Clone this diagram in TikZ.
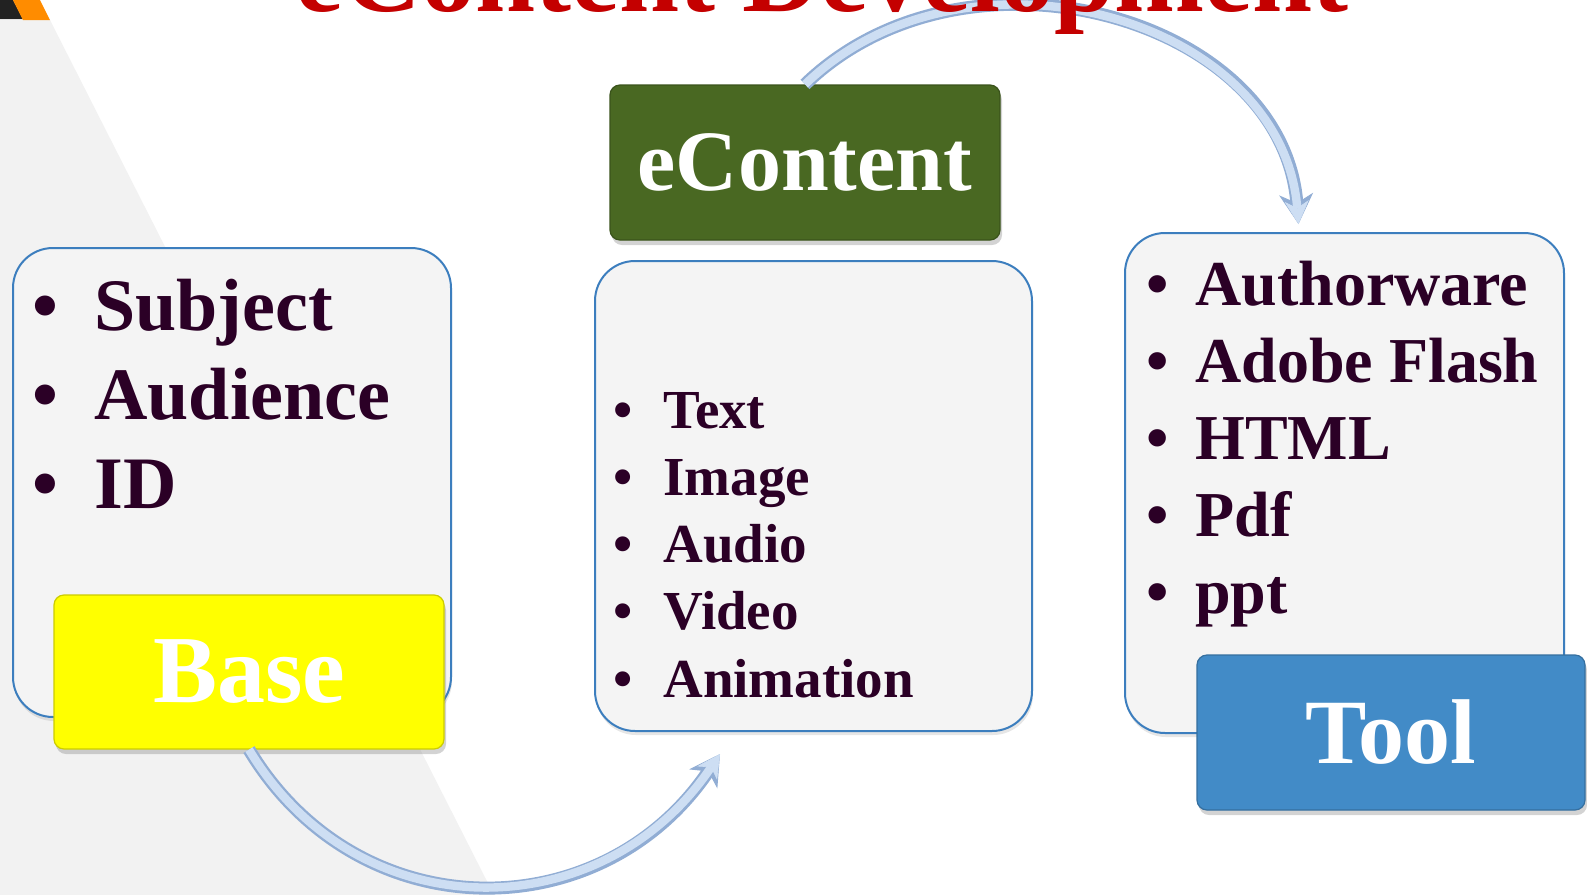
\documentclass[tikz,border=0pt]{standalone}
\usepackage{fontspec}
\setmainfont{Liberation Serif}
\usetikzlibrary{arrows.meta, shadows}
\definecolor{ink}{RGB}{43, 0, 38}
\definecolor{frame}{RGB}{60, 126, 190}
\definecolor{panel}{RGB}{244, 244, 244}
\definecolor{bggray}{RGB}{242, 242, 242}
\definecolor{cornerorange}{RGB}{255, 140, 0}
\definecolor{cornerblack}{RGB}{34, 34, 34}
\definecolor{basefill}{RGB}{255, 255, 0}
\definecolor{contentfill}{RGB}{73, 104, 34}
\definecolor{toolfill}{RGB}{66, 139, 199}
\definecolor{tubeedge}{RGB}{145, 173, 212}
\definecolor{tubefill}{RGB}{205, 222, 243}
\definecolor{titlered}{RGB}{196, 0, 0}
\newcommand*{\px}{0.5pt}
\newcommand*{\bul}[1]{\llap{\textbullet\hspace{#1}}}

\begin{document}
\begin{tikzpicture}[
   x=\px, y=-\px,
   listbox/.style={rectangle, draw=frame, fill=panel, line width=1pt, rounded corners=20pt,
                   drop shadow={opacity=0.2, shadow xshift=0.5pt, shadow yshift=-2pt}},
   tagbox/.style={rectangle, line width=0.6pt, rounded corners=5pt, text=white, inner sep=0pt,
                  drop shadow={opacity=0.35, shadow xshift=1pt, shadow yshift=-2.5pt}},
   leftitem/.style={anchor=base west, inner sep=0pt, text=ink,
                    font=\bfseries\fontsize{37}{44}\selectfont},
   miditem/.style={anchor=base west, inner sep=0pt, text=ink,
                   font=\bfseries\fontsize{27.5}{33}\selectfont},
   rightitem/.style={anchor=base west, inner sep=0pt, text=ink,
                     font=\bfseries\fontsize{32}{38}\selectfont},
   tubeout/.style={draw=tubeedge, line width=6.5pt,
                   -{Stealth[length=15pt, width=17pt, inset=4.5pt, line width=0.5pt]}},
   tubein/.style={draw=tubefill, line width=4.2pt,
                  -{Stealth[length=11.5pt, width=12pt, inset=3.5pt, line width=0.3pt]}},
   titletext/.style={anchor=base, inner sep=0pt, text=titlered,
                     font=\bfseries\fontsize{54}{60}\selectfont}
  ]

  \useasboundingbox (0, 0) rectangle (1587, 895);

  % backdrop
  \fill[bggray] (0, 20) -- (50, 20) -- (494, 895) -- (0, 895) -- cycle;
  \fill[cornerblack] (0, 0) -- (13, 0) -- (23, 19) -- (0, 19) -- cycle;
  \fill[cornerorange] (13, 0) -- (40, 0) -- (50, 20) -- (23, 20) -- cycle;

  % list panels
  \node (baselist) at (232, 482.5) [listbox, minimum width=219pt, minimum height=234.5pt] {};
  \node (contentlist) at (813.5, 496) [listbox, minimum width=218.5pt, minimum height=235pt] {};
  \node (toollist) at (1344.5, 483) [listbox, minimum width=219.5pt, minimum height=250pt] {};

  % labels
  \node (base) at (249, 672) [tagbox, fill=basefill, draw=basefill!80!black,
        minimum width=195pt, minimum height=77pt,
        font=\bfseries\fontsize{48}{52}\selectfont] {Base};
  \node (econtent) at (805, 162.5) [tagbox, fill=contentfill, draw=contentfill!80!black,
        minimum width=195pt, minimum height=77.5pt,
        font=\bfseries\fontsize{43}{48}\selectfont] {eContent};
  \node (tool) at (1391, 732.5) [tagbox, fill=toolfill, draw=toolfill!80!black,
        minimum width=194pt, minimum height=77.5pt,
        font=\bfseries\fontsize{46}{50}\selectfont] {Tool};

  % items
  \foreach \txt [count=\i] in {Subject, Audience, ID} {
    \node (baseitem\i) at (94, 241 + 89 * \i) [leftitem] {\bul{0.49em}\txt};
  }
  \foreach \txt [count=\i] in {Text, Image, Audio, Video, Animation} {
    \node (contentitem\i) at (663, 360.75 + 67.25 * \i) [miditem] {\bul{0.55em}\txt};
  }
  \foreach \txt [count=\i] in {Authorware, Adobe Flash, HTML, Pdf, ppt} {
    \node (toolitem\i) at (1195, 228 + 77 * \i) [rightitem] {\bul{0.42em}\txt};
  }

  % curved arrows
  \foreach \layer in {tubeout, tubein} {
    \draw[\layer] (base.south) to[out=-59, in=236, distance=106pt]
      ([shift={(126, 22)}]contentlist.south west);
    \draw[\layer] (econtent.north) to[out=44, in=94.5, out distance=112pt, in distance=104pt]
      ([shift={(-46, -8)}]toollist.north);
  }

  \node (title) at (822, 11) [titletext] {eContent Development};

\end{tikzpicture}
\end{document}
